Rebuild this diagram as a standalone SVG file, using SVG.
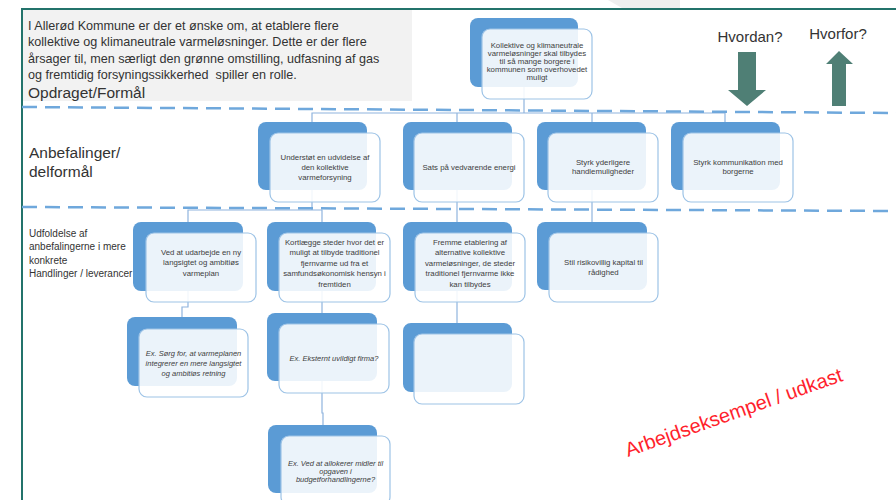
<svg xmlns="http://www.w3.org/2000/svg" width="896" height="500" viewBox="0 0 896 500">
<style>
.back{fill:#5b9bd5}
.front{fill:#ffffff;fill-opacity:0.88;stroke:#9dc3e6;stroke-width:1.2}
.nt{font-family:"Liberation Sans",Arial,sans-serif;font-size:7.8px;fill:#404040;text-anchor:middle}
.it{font-style:italic;font-size:7.5px}
.conn{fill:none;stroke:#8fb4de;stroke-width:1.2}
.dash{fill:none;stroke:#6fa8dc;stroke-width:2.5;stroke-dasharray:15 8}
.lbl{font-family:"Liberation Sans",Arial,sans-serif;fill:#333333}
.arrow{fill:#4f7f75}
</style>
<rect width="896" height="500" fill="#ffffff"/>
<polygon points="608,0 680,0 680,8 622,8" fill="#efefef"/>
<path d="M22,500 V9 H896" fill="none" stroke="#23736b" stroke-width="2"/>
<rect x="23" y="10" width="389" height="91" fill="#f2f2f2"/>
<text class="lbl" font-size="12.6" xml:space="preserve"><tspan x="28" y="29.5">I Allerød Kommune er der et ønske om, at etablere flere</tspan><tspan x="28" y="46">kollektive og klimaneutrale varmeløsninger. Dette er der flere</tspan><tspan x="28" y="62.5">årsager til, men særligt den grønne omstilling, udfasning af gas</tspan><tspan x="28" y="79">og fremtidig forsyningssikkerhed  spiller en rolle.</tspan></text>
<text class="lbl" x="28" y="98" font-size="15.5" fill="#222">Opdraget/Formål</text>
<text class="lbl" font-size="15.5"><tspan x="29" y="158">Anbefalinger/</tspan><tspan x="29" y="177">delformål</tspan></text>
<text class="lbl" font-size="10"><tspan x="29" y="236.5">Udfoldelse af</tspan><tspan x="29" y="250">anbefalingerne i mere</tspan><tspan x="29" y="263.5">konkrete</tspan><tspan x="29" y="277">Handlinger / leverancer</tspan></text>
<text class="lbl" x="750" y="42" font-size="15" text-anchor="middle">Hvordan?</text>
<text class="lbl" x="838" y="39" font-size="15" text-anchor="middle">Hvorfor?</text>
<polygon class="arrow" points="738,52 756,52 756,90 766,90 747,106 728,90 738,90"/>
<polygon class="arrow" points="839,51 853,64 846,64 846,106 832,106 832,64 826,64"/>
<g id="connectors">
<path class="conn" d="M524,87 V113"/>
<path class="conn" d="M312,122 V113 H725 V122"/>
<path class="conn" d="M457,113 V122"/>
<path class="conn" d="M592,113 V122"/>
<path class="conn" d="M312,190 V210 M188,222 V210 H322 V222"/>
<path class="conn" d="M457,190 V222"/>
<path class="conn" d="M592,190 V222"/>
<path class="conn" d="M188,291 V307 H182 V317"/>
<path class="conn" d="M322,291 V313"/>
<path class="conn" d="M322,381 V413 H323 V425"/>
<path class="conn" d="M457,291 V323"/>
</g>
<path class="dash" d="M22,107 L896,113"/>
<path class="dash" d="M22,207 L896,211"/>
<g id="n-top">
<rect class="back" x="470" y="18" width="108" height="69" rx="8"/>
<rect class="front" x="482" y="29" width="110" height="70" rx="8"/>
<text class="nt" font-size="7.4"><tspan x="537" y="47.6">Kollektive og klimaneutrale</tspan><tspan x="537" y="55.6">varmeløsninger skal tilbydes</tspan><tspan x="537" y="63.6">til så mange borgere i</tspan><tspan x="537" y="71.6">kommunen som overhovedet</tspan><tspan x="537" y="79.6">muligt</tspan></text>
</g>
<g id="n-understot">
<rect class="back" x="258" y="122" width="109" height="68" rx="8"/>
<rect class="front" x="270" y="133" width="110" height="69" rx="8"/>
<text class="nt"><tspan x="325" y="160">Understøt en udvidelse af</tspan><tspan x="325" y="170">den kollektive</tspan><tspan x="325" y="179.5">varmeforsyning</tspan></text>
</g>
<g id="n-sats">
<rect class="back" x="403" y="122" width="109" height="68" rx="8"/>
<rect class="front" x="414" y="133" width="110" height="69" rx="8"/>
<text class="nt" x="469" y="170">Sats på vedvarende energi</text>
</g>
<g id="n-handle">
<rect class="back" x="537" y="122" width="109" height="68" rx="8"/>
<rect class="front" x="548" y="133" width="110" height="69" rx="8"/>
<text class="nt"><tspan x="603" y="164.5">Styrk yderligere</tspan><tspan x="603" y="173.5">handlemuligheder</tspan></text>
</g>
<g id="n-kommunikation">
<rect class="back" x="671" y="122" width="109" height="68" rx="8"/>
<rect class="front" x="683" y="133" width="110" height="69" rx="8"/>
<text class="nt"><tspan x="738" y="164.5">Styrk kommunikation med</tspan><tspan x="738" y="173.5">borgerne</tspan></text>
</g>
<g id="n-varmeplan">
<rect class="back" x="133" y="222" width="110" height="69" rx="8"/>
<rect class="front" x="146" y="233" width="110" height="69" rx="8"/>
<text class="nt"><tspan x="201" y="254.5">Ved at udarbejde en ny</tspan><tspan x="201" y="265">langsigtet og ambitiøs</tspan><tspan x="201" y="276">varmeplan</tspan></text>
</g>
<g id="n-kortlaegge">
<rect class="back" x="267" y="222" width="109" height="69" rx="8"/>
<rect class="front" x="279" y="233" width="111" height="69" rx="8"/>
<text class="nt"><tspan x="334.5" y="244.8">Kortlægge steder hvor det er</tspan><tspan x="334.5" y="255.3">muligt at tilbyde traditionel</tspan><tspan x="334.5" y="265.8">fjernvarme ud fra et</tspan><tspan x="334.5" y="276.3">samfundsøkonomisk hensyn i</tspan><tspan x="334.5" y="286.8">fremtiden</tspan></text>
</g>
<g id="n-fremme">
<rect class="back" x="403" y="222" width="109" height="69" rx="8"/>
<rect class="front" x="415" y="233" width="110" height="69" rx="8"/>
<text class="nt"><tspan x="470" y="244.8">Fremme etablering af</tspan><tspan x="470" y="255.3">alternative kollektive</tspan><tspan x="470" y="265.8">varmeløsninger, de steder</tspan><tspan x="470" y="276.3">traditionel fjernvarme ikke</tspan><tspan x="470" y="286.8">kan tilbydes</tspan></text>
</g>
<g id="n-kapital">
<rect class="back" x="537" y="222" width="110" height="68" rx="8"/>
<rect class="front" x="549" y="233" width="109" height="69" rx="8"/>
<text class="nt"><tspan x="603.5" y="264.5">Stil risikovillig kapital til</tspan><tspan x="603.5" y="274.5">rådighed</tspan></text>
</g>
<g id="n-sorg">
<rect class="back" x="127" y="317" width="110" height="69" rx="8"/>
<rect class="front" x="139" y="329" width="109" height="68" rx="8"/>
<text class="nt it"><tspan x="193.5" y="356">Ex. Sørg for, at varmeplanen</tspan><tspan x="193.5" y="365.5">integrerer en mere langsigtet</tspan><tspan x="193.5" y="375.5">og ambitiøs retning</tspan></text>
</g>
<g id="n-ekstern">
<rect class="back" x="267" y="313" width="110" height="68" rx="8"/>
<rect class="front" x="279" y="324" width="110" height="69" rx="8"/>
<text class="nt it" x="334" y="361">Ex. Eksternt uvildigt firma?</text>
</g>
<g id="n-tom">
<rect class="back" x="403" y="323" width="109" height="69" rx="8"/>
<rect class="front" x="414" y="334" width="110" height="70" rx="8"/>
</g>
<g id="n-allokere">
<rect class="back" x="268" y="425" width="109" height="68" rx="8"/>
<rect class="front" x="281" y="436" width="109" height="69" rx="8"/>
<text class="nt it"><tspan x="335.5" y="465.5">Ex. Ved at allokerer midler til</tspan><tspan x="335.5" y="473.8">opgaven i</tspan><tspan x="335.5" y="482">budgetforhandlingerne?</tspan></text>
</g>
<text x="628" y="457" transform="rotate(-19.5 628 457)" font-family="'Liberation Sans',Arial,sans-serif" font-size="20" fill="#ff1f2d">Arbejdseksempel / udkast</text>
</svg>
